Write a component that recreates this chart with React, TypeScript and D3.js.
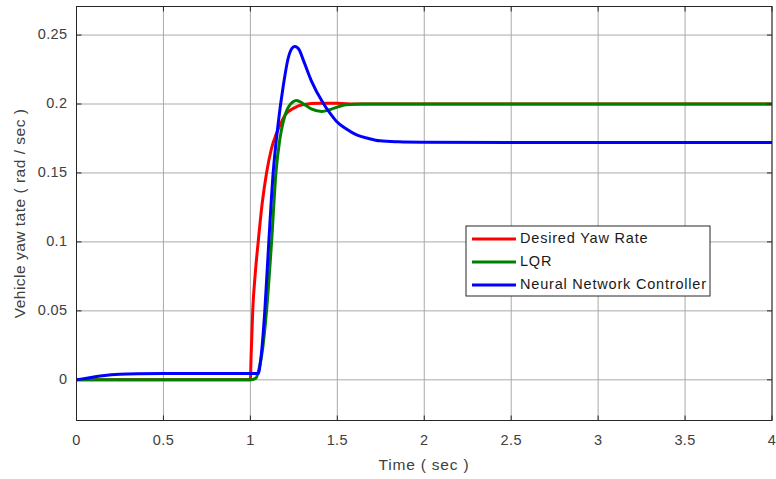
import React from "react";
import * as d3 from "d3";

const xTicks = [0, 0.5, 1, 1.5, 2, 2.5, 3, 3.5, 4];
const yTicks = [0, 0.05, 0.1, 0.15, 0.2, 0.25];
const yTickLabels = ["0", "0.05", "0.1", "0.15", "0.2", "0.25"];

const desiredT = [0, 0.5, 1.0, 1.004, 1.0135, 1.028, 1.045, 1.068, 1.093, 1.12, 1.151, 1.175, 1.2, 1.25, 1.3, 1.4, 1.5, 1.6, 2, 3, 4];
const desiredV = [0, 0, 0, 0.016, 0.05, 0.077, 0.1, 0.128, 0.15, 0.167, 0.179, 0.186, 0.192, 0.197, 0.1995, 0.2005, 0.2005, 0.2, 0.2, 0.2, 0.2];

const lqrT = [0, 0.5, 1.0, 1.03, 1.05, 1.07, 1.093, 1.122, 1.147, 1.17, 1.189, 1.22, 1.266, 1.3, 1.35, 1.41, 1.47, 1.55, 1.65, 2, 3, 4];
const lqrV = [0, 0, 0, 0.001, 0.008, 0.022, 0.05, 0.1, 0.15, 0.175, 0.187, 0.198, 0.2025, 0.2005, 0.1965, 0.1946, 0.1965, 0.1995, 0.2, 0.2, 0.2, 0.2];

const nnT = [0, 0.05, 0.1, 0.15, 0.2, 0.25, 0.35, 0.5, 1.0, 1.045, 1.06, 1.083, 1.106, 1.131, 1.16, 1.189, 1.217, 1.24, 1.256, 1.28, 1.304, 1.35, 1.419, 1.46, 1.496, 1.55, 1.611, 1.68, 1.745, 1.85, 1.99, 3, 4];
const nnV = [0, 0.001, 0.002, 0.003, 0.0037, 0.0041, 0.0044, 0.0045, 0.0045, 0.0046, 0.015, 0.05, 0.1, 0.15, 0.186, 0.213, 0.233, 0.2405, 0.2417, 0.2395, 0.232, 0.217, 0.2006, 0.193, 0.1873, 0.182, 0.1776, 0.175, 0.1733, 0.1726, 0.1723, 0.172, 0.172];

const seriesNames = ["Desired Yaw Rate", "LQR", "Neural Network Controller"];
const seriesColors = ["#ff0000", "#008000", "#0000ff"];

export default function App() {
  const W = 776, H = 479;
  const left = 76.5, right = 772, top = 6.5, bottom = 420.5;
  const x = d3.scaleLinear().domain([0, 4]).range([left, right]);
  const y = d3.scaleLinear().domain([-0.0295, 0.2707]).range([bottom, top]);
  const line = d3.line<[number, number]>().x(d => x(d[0])).y(d => y(d[1])).curve(d3.curveMonotoneX);
  const series = [
    desiredT.map((t, i) => [t, desiredV[i]] as [number, number]),
    lqrT.map((t, i) => [t, lqrV[i]] as [number, number]),
    nnT.map((t, i) => [t, nnV[i]] as [number, number]),
  ];
  const font = "'Liberation Sans', Arial, Helvetica, sans-serif";
  const axisColor = "#262626";
  const textColor = "#404040";
  const gridColor = "#aaaaaa";
  const tl = 5;
  const lg = { x: 466, y: 226, w: 244, h: 70 };
  return (
    <svg width={W} height={H} style={{ position: "absolute", left: 0, top: 0, background: "#fff" }} fontFamily={font}>
      <rect x={0} y={0} width={W} height={H} fill="#fff" />
      <defs>
        <clipPath id="plot">
          <rect x={left} y={top} width={right - left} height={bottom - top} />
        </clipPath>
      </defs>
      {xTicks.map(t => (
        <line key={"gx" + t} x1={x(t)} x2={x(t)} y1={top} y2={bottom} stroke={gridColor} strokeWidth={1} />
      ))}
      {yTicks.map(t => (
        <line key={"gy" + t} x1={left} x2={right} y1={y(t)} y2={y(t)} stroke={gridColor} strokeWidth={1} />
      ))}
      <g clipPath="url(#plot)">
        {series.map((s, i) => (
          <path key={i} d={line(s) || ""} fill="none" stroke={seriesColors[i]} strokeWidth={3} strokeLinejoin="round" strokeLinecap="round" />
        ))}
      </g>
      <rect x={left} y={top} width={right - left} height={bottom - top} fill="none" stroke={axisColor} strokeWidth={1} />
      {xTicks.map(t => (
        <g key={"tx" + t}>
          <line x1={x(t)} x2={x(t)} y1={bottom} y2={bottom - tl} stroke={axisColor} />
          <line x1={x(t)} x2={x(t)} y1={top} y2={top + tl} stroke={axisColor} />
          <text x={x(t)} y={bottom + 21} textAnchor="middle" dominantBaseline="middle" fontSize={14.5} letterSpacing={0.4} fill={textColor}>{String(t)}</text>
        </g>
      ))}
      {yTicks.map((t, i) => (
        <g key={"ty" + t}>
          <line x1={left} x2={left + tl} y1={y(t)} y2={y(t)} stroke={axisColor} />
          <line x1={right} x2={right - tl} y1={y(t)} y2={y(t)} stroke={axisColor} />
          <text x={left - 9} y={y(t)} textAnchor="end" dominantBaseline="middle" fontSize={14.5} letterSpacing={0.4} fill={textColor}>{yTickLabels[i]}</text>
        </g>
      ))}
      <text x={424} y={466} textAnchor="middle" dominantBaseline="middle" fontSize={15.5} letterSpacing={0.8} fill={textColor}>Time ( sec )</text>
      <text transform={`translate(21, ${(top + bottom) / 2}) rotate(-90)`} textAnchor="middle" dominantBaseline="middle" fontSize={15.5} letterSpacing={0.5} fill={textColor}>Vehicle yaw tate ( rad / sec )</text>
      <rect x={lg.x} y={lg.y} width={lg.w} height={lg.h} fill="#fff" stroke={axisColor} strokeWidth={1} />
      {seriesNames.map((n, i) => (
        <g key={n}>
          <line x1={lg.x + 6} x2={lg.x + 50} y1={lg.y + 13 + i * 23} y2={lg.y + 13 + i * 23} stroke={seriesColors[i]} strokeWidth={3} />
          <text x={lg.x + 54} y={lg.y + 13 + i * 23} dominantBaseline="middle" fontSize={14.5} letterSpacing={0.8} fill="#1a1a1a">{n}</text>
        </g>
      ))}
    </svg>
  );
}
